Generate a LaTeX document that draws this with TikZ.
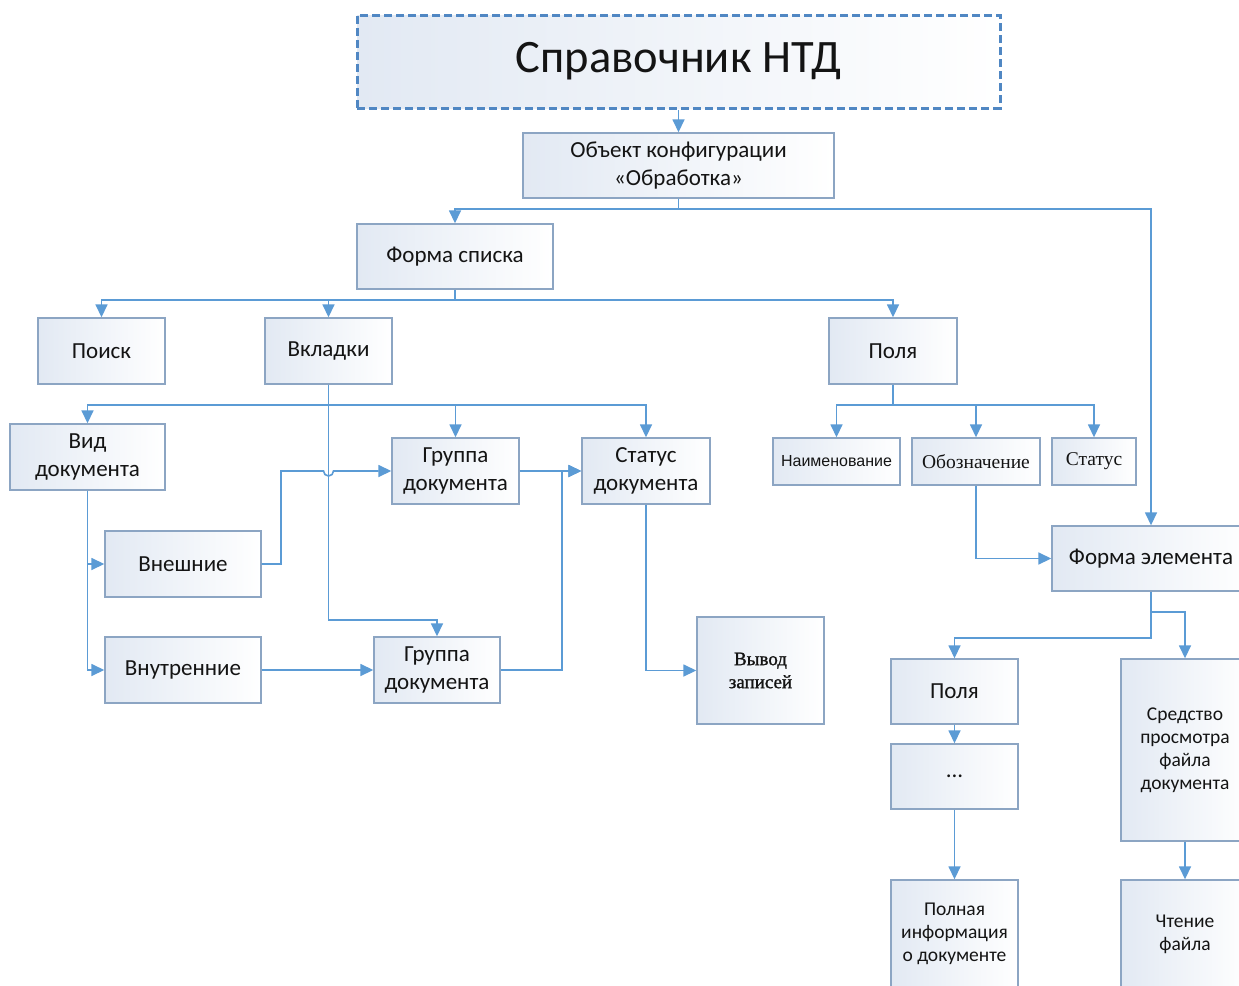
\documentclass[tikz,border=0pt]{standalone}
\usepackage{fontspec}
\setmainfont{Carlito}
\newfontfamily\serfont{Liberation Serif}
\newfontfamily\serboldfont[FakeBold=1.2]{Liberation Serif}
\newfontfamily\arfont{Liberation Sans}
\usetikzlibrary{arrows.meta}
\definecolor{linecol}{RGB}{91,155,213}
\definecolor{boxborder}{RGB}{140,165,195}
\definecolor{boxfill}{RGB}{226,233,243}
\definecolor{titleborder}{RGB}{80,135,195}
\definecolor{textcol}{RGB}{20,20,20}
\tikzset{
  box/.style={draw=boxborder, line width=1.4pt, left color=boxfill, right color=white,
    align=center, inner sep=0pt, text=textcol, font=\fontsize{23}{28}\selectfont},
  smallbox/.style={box, font=\fontsize{19.5}{23}\selectfont},
  conn/.style={draw=linecol, line width=1.6pt, -{Triangle[length=13pt,width=12pt]}},
  plain/.style={draw=linecol, line width=1.6pt}
}
\begin{document}
\begin{tikzpicture}[x=1pt,y=-1pt]
\useasboundingbox (0,0) rectangle (1239,985);
\fill[white] (0,0) rectangle (1239,985);
\clip (0,0) rectangle (1239,985);
% nodes
\node[box, draw=titleborder, line width=3pt, dash pattern=on 8pt off 4pt,
  minimum width=643pt, minimum height=93pt, font=\fontsize{46.5}{52}\selectfont]
  (title) at (678.5,61.5) {Справочник НТД};
\node[box, minimum width=311pt, minimum height=65pt] (obj) at (678.5,165.5) {Объект конфигурации\\«Обработка»};
\node[box, minimum width=196pt, minimum height=65pt] (fspis) at (455,256.5) {Форма списка};
\node[box, minimum width=127pt, minimum height=66pt] (poisk) at (101.5,351) {Поиск};
\node[box, minimum width=127pt, minimum height=66pt] (vkl) at (328.5,351) {Вкладки};
\node[box, minimum width=128pt, minimum height=66pt] (polya) at (893,351) {Поля};
\node[box, minimum width=155pt, minimum height=66pt] (vid) at (87.5,457) {Вид\\документа};
\node[box, minimum width=127pt, minimum height=66pt] (g1) at (455.5,471) {Группа\\документа};
\node[box, minimum width=128pt, minimum height=66pt] (stat) at (646,471) {Статус\\документа};
\node[box, minimum width=156pt, minimum height=66pt] (vnesh) at (183,564) {Внешние};
\node[box, minimum width=156pt, minimum height=66pt] (vnutr) at (183,670) {Внутренние};
\node[box, minimum width=126pt, minimum height=66pt] (g2) at (437,670) {Группа\\документа};
\node[box, minimum width=127pt, minimum height=107pt, font=\serboldfont\fontsize{19}{23}\selectfont] (vyvod) at (760.5,670.5) {Вывод\\записей};
\node[box, minimum width=127pt, minimum height=47pt, font=\arfont\fontsize{16}{19}\selectfont] (naim) at (836.5,461.5) {Наименование};
\node[box, minimum width=128pt, minimum height=47pt, font=\serfont\fontsize{19.5}{23}\selectfont] (oboz) at (976,461.5) {Обозначение};
\node[box, minimum width=84pt, minimum height=47pt, font=\serfont\fontsize{19.5}{23}\selectfont] (status2) at (1094,461.5) {Статус};
\node[box, minimum width=198pt, minimum height=65pt] (felem) at (1151,558.5) {Форма элемента};
\node[box, minimum width=127pt, minimum height=65pt] (polya2) at (954.5,691.5) {Поля};
\node[box, minimum width=127pt, minimum height=65pt] (dots) at (954.5,776.5) {...};
\node[smallbox, minimum width=127pt, minimum height=108pt] (poln) at (954.5,934) {Полная\\информация\\о документе};
\node[smallbox, minimum width=128pt, minimum height=182pt] (sred) at (1185,750) {Средство\\просмотра\\файла\\документа};
\node[smallbox, minimum width=128pt, minimum height=108pt] (chten) at (1185,934) {Чтение\\файла};
% helper coordinates
\coordinate (objbus) at (678.5,209);
\coordinate (fsbus) at (455,300);
\coordinate (vkbus) at (328.5,405);
\coordinate (vkdown) at (328.5,620);
\coordinate (plbus) at (893,405);
\coordinate (vnA) at (281,564);
\coordinate (vnB) at (281,471);
\coordinate (hop) at (323.5,471);
\coordinate (g2A) at (562,670);
\coordinate (g2B) at (562,471);
\coordinate (feA) at (1151,638);
\coordinate (feB) at (1151,612);
% connectors
\draw[conn] (title.south) -- (obj.north);
\draw[plain] (obj.south) -- (objbus);
\draw[conn] (objbus) -| (fspis.north);
\draw[conn] (objbus) -| (felem.north);
\draw[plain] (fspis.south) -- (fsbus);
\draw[conn] (fsbus) -| (poisk.north);
\draw[conn] (fsbus) -| (vkl.north);
\draw[conn] (fsbus) -| (polya.north);
\draw[plain] (vkl.south) -- (vkbus);
\draw[conn] (vkbus) -| (vid.north);
\draw[conn] (vkbus) -| (g1.north);
\draw[conn] (vkbus) -| (stat.north);
\draw[conn] (vkl.south) -- (vkdown) -| (g2.north);
\draw[conn] (vid.south) |- (vnesh.west);
\draw[conn] (vid.south) |- (vnutr.west);
\draw[conn] (vnesh.east) -- (vnA) -- (vnB) -- (hop) arc[start angle=180,end angle=360,radius=5pt] -- (g1.west);
\draw[conn] (vnutr.east) -- (g2.west);
\draw[conn] (g1.east) -- (stat.west);
\draw[conn] (g2.east) -- (g2A) -- (g2B) -- (stat.west);
\draw[conn] (stat.south) |- (vyvod.west);
\draw[plain] (polya.south) -- (plbus);
\draw[conn] (plbus) -| (naim.north);
\draw[conn] (plbus) -| (oboz.north);
\draw[conn] (plbus) -| (status2.north);
\draw[conn] (oboz.south) |- (felem.west);
\draw[conn] (felem.south) -- (feA) -| (polya2.north);
\draw[conn] (feB) -| (sred.north);
\draw[conn] (polya2.south) -- (dots.north);
\draw[conn] (dots.south) -- (poln.north);
\draw[conn] (sred.south) -- (chten.north);
\end{tikzpicture}
\end{document}
